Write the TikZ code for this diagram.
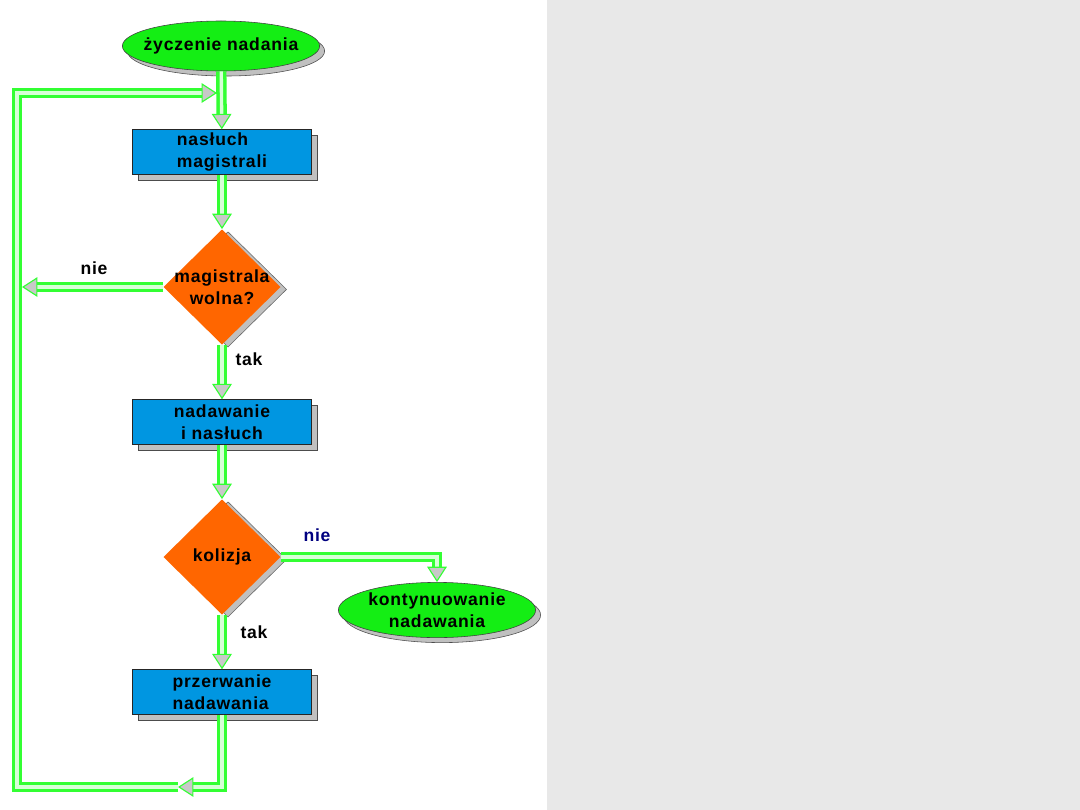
\documentclass[tikz,border=0pt]{standalone}
\usepackage{fontspec}
\setmainfont[LetterSpace=4.5]{Liberation Sans}
\usetikzlibrary{arrows.meta,positioning,shapes.geometric,shadows}
\definecolor{fcGreen} {RGB}{ 51,255, 51}
\definecolor{fcPale}  {RGB}{215,255,215}
\definecolor{fcTip}   {RGB}{200,200,200}
\definecolor{fcBlue}  {RGB}{  0,150,225}
\definecolor{fcOrange}{RGB}{255,102,  0}
\definecolor{fcLime}  {RGB}{ 20,238, 20}
\definecolor{fcShadow}{RGB}{192,192,192}
\definecolor{fcNavy}  {RGB}{  0,  0,128}
\definecolor{fcPaper} {RGB}{232,232,232}

\begin{document}
\begin{tikzpicture}[x=0.025cm,y=-0.025cm,
  every node/.style={font=\fontsize{12.5}{15.5}\selectfont\bfseries},
  term/.style={ellipse,draw=black!75,fill=fcLime,inner xsep=-6pt,inner ysep=0pt,align=center,minimum width=4.93cm,
    drop shadow={shadow xshift=0.125cm,shadow yshift=-0.125cm,fill=fcShadow,draw=black!70,opacity=1}},
  proc/.style={draw=black!85,fill=fcBlue,inner sep=0pt,minimum width=4.48cm,minimum height=1.12cm,
    drop shadow={shadow xshift=0.15cm,shadow yshift=-0.15cm,fill=fcShadow,draw=black!70,opacity=1}},
  dec/.style={diamond,fill=fcOrange,inner sep=0pt,minimum width=2.93cm,minimum height=2.88cm,
    drop shadow={shadow xshift=0.15cm,shadow yshift=-0.06cm,fill=fcShadow,draw=black!60,opacity=1}},
  flowline/.style={draw=fcGreen,double=fcPale,line width=2.5pt,double distance=2.4pt},
  flow/.style={flowline,-{Triangle[length=11pt,width=14pt,fill=fcTip,color=fcGreen,line width=0.8pt]}},
  lbl/.style={inner sep=0pt}
]
\useasboundingbox (0,0) rectangle (1080,810);
\fill[white] (0,0) rectangle (547,810);
\fill[fcPaper] (547,0) rectangle (1080,810);

% flow nodes
\node[term,minimum height=1.25cm] (Z) at (221,46) {życzenie nadania};
\node[proc,align=left] (N1) at (222,152) {nasłuch\\magistrali};
\node[dec] (Q1) at (222,287) {};
\node[lbl,align=center] (Q1t) at (Q1) {magistrala\\wolna?};
\node[proc,align=center] (N2) at (222,422) {nadawanie\\i nasłuch};
\node[dec] (Q2) at (222,557) {};
\node[lbl] (Q2t) at (Q2) {kolizja};
\node[term,minimum height=1.38cm] (K) at (437,610) {kontynuowanie\\nadawania};
\node[proc,align=left] (N3) at (222,692) {przerwanie\\nadawania};

% loop corners
\coordinate (LT) at (17,93);
\coordinate (LB) at (17,787);
\coordinate (BM) at (178,787);
\coordinate (TM) at (217,93);
\coordinate (LN) at (22,287);

% connectors
\draw[flow] (BM) -- (LB) -- (LT) -- (TM);
\draw[flow] (Z) -- (N1);
\draw[flow] (N1) -- (Q1);
\draw[flow] (Q1.west) -- (LN);
\draw[flow] (Q1) -- (N2);
\draw[flow] (N2) -- (Q2);
\draw[flow] (Q2.east) -| (K.north);
\draw[flow] (Q2) -- (N3);
\draw[flow] (N3) |- (BM);

% labels
\node[lbl] (nie1) at (94,268) {nie};
\node[lbl] (tak1) at (249,359) {tak};
\node[lbl,text=fcNavy] (nie2) at (317,535) {nie};
\node[lbl] (tak2) at (254,632) {tak};
\end{tikzpicture}
\end{document}
